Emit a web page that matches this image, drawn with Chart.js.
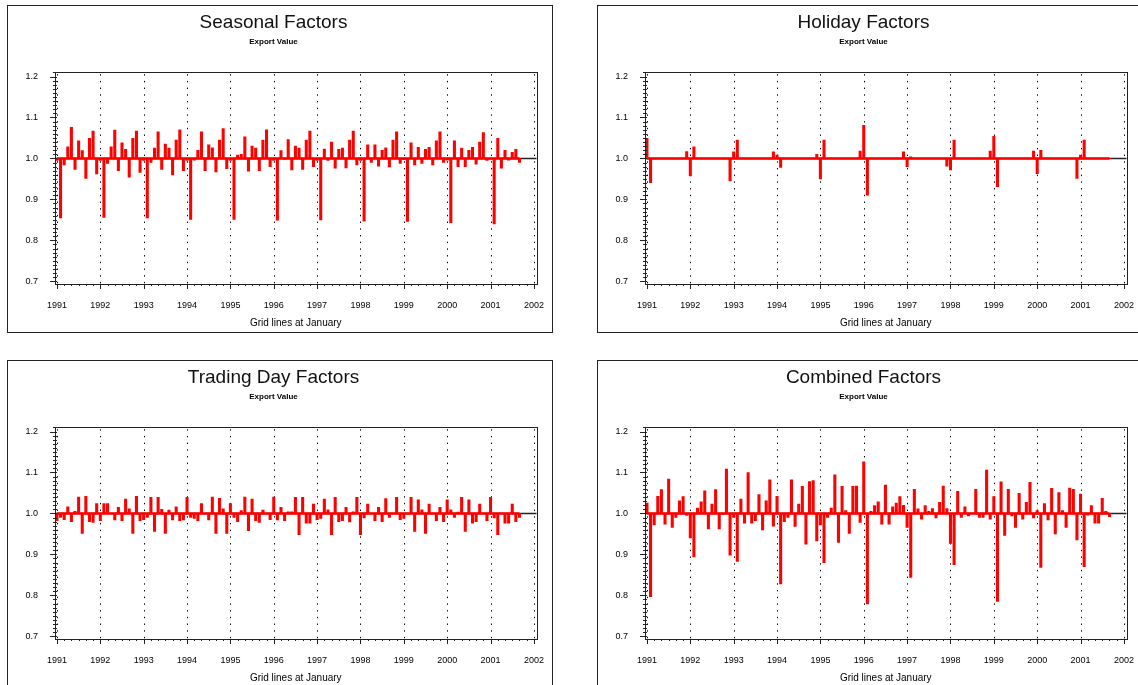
<!DOCTYPE html>
<html>
<head>
<meta charset="utf-8">
<script src="https://cdn.jsdelivr.net/npm/chart.js@4.4.1/dist/chart.umd.min.js"></script>
<style>
  body { margin: 0; background: #fff; width: 1138px; height: 685px; overflow: hidden; position: relative; }
  .panel { position: absolute; width: 546px; height: 328px; border: 1px solid #222; box-sizing: border-box; background: #fff; }
  .panel canvas { position: absolute; left: 0; top: 0; }
</style>
</head>
<body>
<div class="panel" style="left:7px;top:5px"><canvas id="seasonal" width="544" height="326"></canvas></div>
<div class="panel" style="left:597px;top:5px"><canvas id="holiday" width="544" height="326"></canvas></div>
<div class="panel" style="left:7px;top:360px"><canvas id="trading" width="544" height="326"></canvas></div>
<div class="panel" style="left:597px;top:360px"><canvas id="combined" width="544" height="326"></canvas></div>
<script>
// monthly factors, Jan 1991 .. Sep 2001 (one row per year)
const startYear = 1991;
const yearTicks = [1991, 1992, 1993, 1994, 1995, 1996, 1997, 1998, 1999, 2000, 2001, 2002];
const valueTicks = [0.7, 0.8, 0.9, 1.0, 1.1, 1.2];

const seasonal = [
  0.995, 0.855, 0.984, 1.028, 1.076, 0.973, 1.043, 1.019, 0.951, 1.049, 1.067, 0.962,
  0.995, 0.856, 0.988, 1.028, 1.069, 0.970, 1.038, 1.022, 0.954, 1.049, 1.067, 0.966,
  0.995, 0.855, 0.990, 1.025, 1.065, 0.973, 1.035, 1.025, 0.960, 1.045, 1.070, 0.970,
  0.995, 0.851, 0.996, 1.020, 1.065, 0.970, 1.033, 1.026, 0.967, 1.045, 1.073, 0.975,
  0.995, 0.851, 1.008, 1.010, 1.053, 0.969, 1.030, 1.025, 0.970, 1.045, 1.070, 0.980,
  0.995, 0.849, 1.019, 0.998, 1.046, 0.972, 1.030, 1.025, 0.973, 1.045, 1.067, 0.980,
  0.995, 0.850, 1.023, 0.995, 1.040, 0.976, 1.022, 1.025, 0.977, 1.045, 1.067, 0.984,
  0.995, 0.847, 1.033, 0.990, 1.033, 0.981, 1.020, 1.026, 0.979, 1.045, 1.065, 0.988,
  0.997, 0.846, 1.038, 0.984, 1.027, 0.988, 1.022, 1.027, 0.984, 1.043, 1.065, 0.990,
  0.996, 0.843, 1.043, 0.980, 1.025, 0.980, 1.020, 1.027, 0.986, 1.040, 1.063, 0.995,
  0.998, 0.840, 1.049, 0.976, 1.020, 0.996, 1.015, 1.022, 0.990
];

const holiday = [
  1.049, 0.941, 1.000, 1.000, 1.000, 1.000, 1.000, 1.000, 1.000, 1.000, 1.000, 1.017,
  0.957, 1.028, 1.000, 1.000, 1.000, 1.000, 1.000, 1.000, 1.000, 1.000, 1.000, 0.945,
  1.016, 1.045, 1.000, 1.000, 1.000, 1.000, 1.000, 1.000, 1.000, 1.000, 1.000, 1.016,
  1.008, 0.978, 1.000, 1.000, 1.000, 1.000, 1.000, 1.000, 1.000, 1.000, 1.000, 1.010,
  0.950, 1.045, 1.000, 1.000, 1.000, 1.000, 1.000, 1.000, 1.000, 1.000, 1.000, 1.018,
  1.081, 0.910, 1.000, 1.000, 1.000, 1.000, 1.000, 1.000, 1.000, 1.000, 1.000, 1.016,
  0.980, 1.004, 1.000, 1.000, 1.000, 1.000, 1.000, 1.000, 1.000, 1.000, 1.000, 0.981,
  0.972, 1.045, 1.000, 1.000, 1.000, 1.000, 1.000, 1.000, 1.000, 1.000, 1.000, 1.018,
  1.054, 0.931, 1.000, 1.000, 1.000, 1.000, 1.000, 1.000, 1.000, 1.000, 1.000, 1.018,
  0.963, 1.020, 1.000, 1.000, 1.000, 1.000, 1.000, 1.000, 1.000, 1.000, 1.000, 0.951,
  1.008, 1.045, 1.000, 1.000, 1.000, 1.000, 1.000, 1.000, 1.000
];

const tradingDay = [
  0.982, 0.990, 0.985, 1.016, 0.980, 1.005, 1.040, 0.951, 1.042, 0.980, 0.978, 1.024,
  0.982, 1.024, 1.024, 1.000, 0.984, 1.015, 0.982, 1.035, 1.011, 0.951, 1.042, 0.982,
  0.985, 0.990, 1.039, 0.956, 1.039, 1.010, 0.951, 1.008, 0.984, 1.016, 0.982, 0.984,
  1.039, 0.990, 0.988, 0.982, 1.024, 1.000, 0.984, 1.040, 0.951, 1.037, 1.011, 0.951,
  1.024, 0.990, 0.980, 1.007, 1.040, 0.958, 1.035, 0.982, 0.978, 1.008, 1.000, 0.985,
  1.040, 0.984, 1.015, 0.982, 1.004, 1.004, 1.039, 0.948, 1.039, 0.976, 0.976, 1.023,
  0.985, 0.988, 1.035, 1.009, 0.948, 1.039, 0.980, 0.982, 1.015, 0.979, 1.004, 1.039,
  0.948, 0.989, 1.023, 1.000, 0.982, 1.015, 0.980, 1.036, 0.990, 1.000, 1.039, 0.985,
  0.988, 1.000, 1.039, 0.956, 1.033, 1.009, 0.951, 1.023, 1.000, 0.982, 1.015, 0.980,
  1.033, 1.009, 0.990, 1.003, 1.039, 0.956, 1.033, 0.976, 0.980, 1.023, 1.000, 0.982,
  1.039, 0.989, 0.948, 1.000, 0.976, 0.976, 1.023, 0.980, 0.990
];

const combined = [
  1.025, 0.797, 0.972, 1.042, 1.058, 0.974, 1.084, 0.966, 0.990, 1.031, 1.041, 0.995,
  0.940, 0.894, 1.013, 1.028, 1.055, 0.962, 1.023, 1.058, 0.962, 0.997, 1.108, 0.898,
  0.990, 0.883, 1.035, 0.976, 1.100, 0.976, 0.982, 1.046, 0.960, 1.031, 1.082, 0.969,
  1.042, 0.828, 0.980, 0.990, 1.082, 0.968, 1.023, 1.066, 0.925, 1.078, 1.080, 0.933,
  0.972, 0.880, 0.990, 1.013, 1.094, 0.929, 1.066, 1.007, 0.951, 1.066, 1.067, 0.978,
  1.126, 0.779, 1.005, 1.019, 1.028, 0.974, 1.069, 0.974, 1.016, 1.025, 1.041, 1.020,
  0.966, 0.844, 1.059, 1.011, 0.986, 1.019, 1.005, 1.012, 0.989, 1.027, 1.067, 1.012,
  0.927, 0.875, 1.054, 0.990, 1.016, 0.994, 1.000, 1.059, 0.990, 0.990, 1.106, 0.986,
  1.041, 0.785, 1.077, 0.946, 1.059, 0.994, 0.966, 1.049, 0.986, 1.027, 1.076, 0.989,
  1.007, 0.868, 1.024, 0.984, 1.061, 0.950, 1.051, 1.007, 0.966, 1.062, 1.059, 0.935,
  1.047, 0.870, 0.996, 1.019, 0.976, 0.976, 1.037, 1.005, 0.992
];

// month positions on a year axis
const monthX = seasonal.map((v, i) => startYear + i / 12);

const FONT = '"Liberation Sans", Arial, sans-serif';

// dotted January grid lines, reference line, frame and minor ticks
const sasFrame = {
  id: 'sasFrame',
  beforeDatasetsDraw(chart) {
    const { ctx, chartArea: a, scales: { x, y } } = chart;
    ctx.save();
    ctx.strokeStyle = '#000';
    ctx.lineWidth = 1;
    ctx.setLineDash([1.4, 5.3]);
    yearTicks.forEach(yr => {
      const px = Math.round(x.getPixelForValue(yr)) + 0.5;
      ctx.beginPath();
      ctx.moveTo(px, a.top + 2);
      ctx.lineTo(px, a.bottom);
      ctx.stroke();
    });
    ctx.setLineDash([]);
    const py = y.getPixelForValue(1);
    ctx.lineWidth = 1.5;
    ctx.strokeStyle = '#222';
    ctx.beginPath();
    ctx.moveTo(a.left, py);
    ctx.lineTo(a.right, py);
    ctx.stroke();
    ctx.restore();
  },
  afterDatasetsDraw(chart) {
    const { ctx, chartArea: a, scales: { x, y } } = chart;
    ctx.save();
    ctx.strokeStyle = '#222';
    ctx.lineWidth = 1;
    ctx.strokeRect(Math.round(a.left) + 0.5, Math.round(a.top) + 0.5,
      Math.round(a.right - a.left), Math.round(a.bottom - a.top));
    ctx.beginPath();
    // y ticks: major every 0.1, minor every 0.01
    for (let k = 69; k <= 121; k++) {
      const py = Math.round(y.getPixelForValue(k / 100)) + 0.5;
      if (py < a.top || py > a.bottom) continue;
      const major = k % 10 === 0;
      ctx.moveTo(a.left - (major ? 5 : 2), py);
      ctx.lineTo(a.left + 2, py);
    }
    // x ticks: major at January, minor every two months
    for (let m = 0; m <= 132; m += 2) {
      const px = Math.round(x.getPixelForValue(startYear + m / 12)) + 0.5;
      ctx.moveTo(px, a.bottom);
      ctx.lineTo(px, a.bottom + (m % 12 === 0 ? 5 : 2));
    }
    ctx.stroke();
    ctx.restore();
  }
};

const makeChart = (id, title, values) => {
  const ctx = document.getElementById(id).getContext('2d');
  return new Chart(ctx, {
    type: 'bar',
    data: {
      datasets: [{
        type: 'line',
        data: [{ x: monthX[0], y: 1 }, { x: monthX[monthX.length - 1], y: 1 }],
        borderColor: '#ff0000',
        borderWidth: 2.5,
        pointRadius: 0,
        order: 0
      }, {
        data: values.map((v, i) => ({ x: monthX[i], y: [1, v] })),
        backgroundColor: '#ff0000',
        borderWidth: 0,
        barThickness: 2.4,
        order: 1
      }]
    },
    options: {
      responsive: false,
      animation: false,
      devicePixelRatio: 1,
      layout: { padding: { left: 0, right: 13, top: 0, bottom: 0 } },
      plugins: {
        legend: { display: false },
        tooltip: { enabled: false },
        title: {
          display: true, text: title, color: '#111',
          font: { family: FONT, size: 19, weight: 'normal' },
          padding: { top: 5, bottom: 0 }
        },
        subtitle: {
          display: true, text: 'Export Value', color: '#000',
          font: { family: FONT, size: 8, weight: 'bold' },
          padding: { top: 3.6, bottom: 25.2 }
        }
      },
      scales: {
        x: {
          type: 'linear',
          offset: false,
          min: 1990.955,
          max: 2002.06,
          afterBuildTicks: s => { s.ticks = yearTicks.map(v => ({ value: v })); },
          afterFit: s => { s.height = 48; },
          grid: { display: false },
          border: { display: false },
          ticks: {
            autoSkip: false, maxRotation: 0, padding: 8, color: '#000',
            font: { family: FONT, size: 9 },
            callback: v => String(v)
          },
          title: {
            display: true, text: 'Grid lines at January', color: '#000',
            font: { family: FONT, size: 10 },
            padding: { top: 0, bottom: 3 }
          }
        },
        y: {
          min: 0.6934,
          max: 1.2105,
          afterBuildTicks: s => { s.ticks = valueTicks.map(v => ({ value: v })); },
          afterFit: s => { s.width = 47; },
          grid: { display: false },
          border: { display: false },
          ticks: {
            padding: 9, color: '#000',
            font: { family: FONT, size: 9 },
            callback: v => v.toFixed(1)
          }
        }
      }
    },
    plugins: [sasFrame]
  });
};

makeChart('seasonal', 'Seasonal Factors', seasonal);
makeChart('holiday', 'Holiday Factors', holiday);
makeChart('trading', 'Trading Day Factors', tradingDay);
makeChart('combined', 'Combined Factors', combined);
</script>
</body>
</html>
